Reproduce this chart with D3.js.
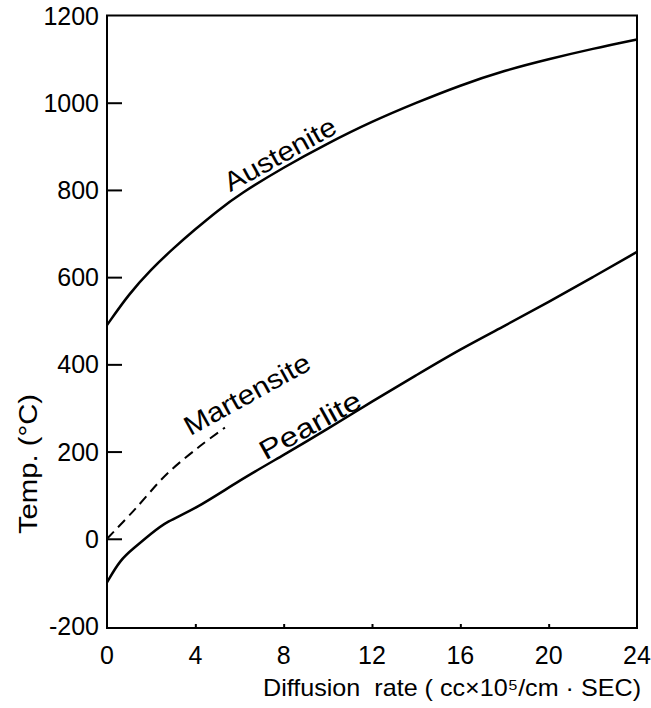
<!DOCTYPE html>
<html><head><meta charset="utf-8">
<script src="https://cdn.jsdelivr.net/npm/d3@7"></script>
<style>body{margin:0;background:#fff}svg{display:block}text{font-family:"Liberation Sans",Arial,sans-serif;fill:#000}</style>
</head><body><svg id="c" width="651" height="708"></svg>
<script>
const xTicks = [0,4,8,12,16,20,24];
const yTicks = [-200,0,200,400,600,800,1000,1200];
const austeniteX = [0,1,2,3,4,5,6,8,10,12,14,16,18,20,22,24];
const austeniteY = [490,562,618,666,710,752,790,852,907,957,1000,1040,1074,1100,1124,1145];
const pearliteX = [0,0.6,1.2,2,2.7,4,6,8,10,12,14,16,18,20,22,24];
const pearliteY = [-100,-48,-22,12,40,68,134,192,252,315,375,435,488,543,600,658];
const martensiteX = [0,1.2,2.7,4.2,5.34];
const martensiteY = [0,64,148,212,255];
const labels = ["Austenite","Martensite","Pearlite"];

const svg = d3.select("#c");
const x = d3.scaleLinear().domain([0,24]).range([107,637]);
const y = d3.scaleLinear().domain([-200,1200]).range([626,15.5]);

// frame
svg.append("rect").attr("x",107).attr("y",15.5).attr("width",530).attr("height",612.5)
  .attr("fill","none").attr("stroke","#000").attr("stroke-width",2);

// y axis ticks inward
const ya = svg.append("g").attr("transform","translate(107,0)")
  .call(d3.axisRight(y).tickValues(yTicks.slice(1,-1)).tickSize(15).tickFormat(""));
ya.select(".domain").remove();
ya.selectAll("line").attr("stroke-width",2);
svg.append("g").selectAll("text").data(yTicks).join("text")
  .attr("x",99).attr("y",d=>y(d)).attr("dy","0.36em").attr("text-anchor","end")
  .style("font-size","25px").text(d=>d<0?"-"+Math.abs(d):d);

const xa = svg.append("g").attr("transform","translate(0,628)")
  .call(d3.axisTop(x).tickValues(xTicks.slice(1,-1)).tickSize(4).tickFormat(""));
xa.select(".domain").remove();
xa.selectAll("line").attr("stroke-width",2);
svg.append("g").selectAll("text").data(xTicks).join("text")
  .attr("x",d=>x(d)).attr("y",664).attr("text-anchor","middle")
  .style("font-size","25px").text(d=>d);

// titles
svg.append("text").attr("x",263).attr("y",696).style("font-size","24px")
  .attr("textLength",378).attr("lengthAdjust","spacingAndGlyphs")
  .text("Diffusion\u00a0\u00a0rate ( cc×10⁵/cm · SEC)");
svg.append("text").attr("transform","translate(37,464) rotate(-90)").attr("text-anchor","middle")
  .style("font-size","26px").attr("textLength",140).attr("lengthAdjust","spacingAndGlyphs").text("Temp. (°C)");

const line = d3.line().x(d=>x(d[0])).y(d=>y(d[1])).curve(d3.curveBasis);
svg.append("path").datum(d3.zip(austeniteX,austeniteY)).attr("d",line)
  .attr("fill","none").attr("stroke","#000").attr("stroke-width",2.5);
svg.append("path").datum(d3.zip(pearliteX,pearliteY)).attr("d",line)
  .attr("fill","none").attr("stroke","#000").attr("stroke-width",2.5);
svg.append("path").datum(d3.zip(martensiteX,martensiteY)).attr("d",line.curve(d3.curveCatmullRom))
  .attr("fill","none").attr("stroke","#000").attr("stroke-width",2).attr("stroke-dasharray","10,6");

// curve labels
const lab = [[labels[0],280,154,-29,124],[labels[1],247,394,-29,140],[labels[2],310,425,-29,112]];
svg.append("g").selectAll("text").data(lab).join("text")
  .attr("transform",d=>`translate(${d[1]},${d[2]}) rotate(${d[3]})`)
  .attr("text-anchor","middle").attr("dy","0.35em").style("font-size","27px")
  .attr("textLength",d=>d[4]).attr("lengthAdjust","spacingAndGlyphs").text(d=>d[0]);
</script></body></html>
